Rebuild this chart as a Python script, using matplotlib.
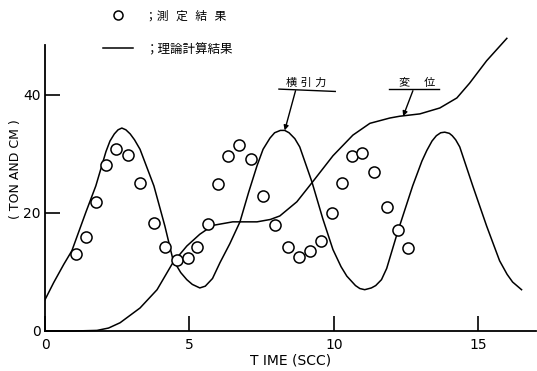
import matplotlib.pyplot as plt

plt.rcParams['font.family'] = ['DejaVu Sans', 'Noto Sans CJK JP']

# measured points (circles)
meas_t = [1.07, 1.42, 1.76, 2.11, 2.46, 2.87, 3.29, 3.77, 4.15, 4.57, 4.95, 5.26,
          5.64, 5.99, 6.33, 6.71, 7.13, 7.54, 7.96, 8.41, 8.79, 9.17, 9.55, 9.93,
          10.28, 10.62, 10.97, 11.38, 11.83, 12.21, 12.56]
meas_v = [13.0, 15.9, 21.9, 28.2, 30.9, 29.9, 25.1, 18.3, 14.2, 12.1, 12.3, 14.2,
          18.1, 25.0, 29.6, 31.5, 29.2, 22.9, 17.9, 14.2, 12.6, 13.5, 15.2, 20.0,
          25.1, 29.7, 30.2, 27.0, 21.0, 17.1, 14.0]

# theoretical towing force (横引力)
force_t = [0, 0.3, 0.65, 0.93, 1.42, 1.76, 2.11, 2.25, 2.4, 2.53, 2.66, 2.8, 2.95,
           3.1, 3.29, 3.77, 4.15, 4.43, 4.7, 4.91, 5.1, 5.36, 5.55, 5.8, 6.06, 6.4,
           6.75, 7.05, 7.34, 7.55, 7.79, 7.95, 8.15, 8.3, 8.45, 8.65, 8.82, 9.24,
           9.62, 9.97, 10.25, 10.45, 10.75, 10.9, 11.07, 11.3, 11.45, 11.65, 11.83,
           12.21, 12.73, 13.05, 13.22, 13.4, 13.55, 13.7, 13.84, 14.0, 14.1, 14.22,
           14.36, 14.81, 15.29, 15.74, 16.0, 16.19, 16.5]
force_v = [5.3, 8.2, 11.3, 13.6, 20.2, 24.6, 30.4, 32.2, 33.4, 34.1, 34.4, 34.1, 33.4,
           32.4, 30.8, 24.6, 17.8, 12.1, 9.9, 8.7, 7.9, 7.3, 7.6, 8.9, 11.6, 14.8,
           18.5, 23.5, 28.0, 30.8, 32.7, 33.6, 34.0, 34.0, 33.6, 32.6, 31.2, 25.3,
           19.0, 13.8, 10.9, 9.3, 7.7, 7.2, 7.0, 7.3, 7.7, 8.7, 10.6,
           16.8, 24.6, 28.8, 30.6, 32.2, 33.1, 33.6, 33.7, 33.5, 33.1, 32.4,
           31.2, 24.6, 17.8, 11.9, 9.6, 8.3, 7.0]

# theoretical displacement (変位)
disp_t = [0, 1.0, 1.8, 2.2, 2.6, 3.29, 3.88, 4.43, 4.91, 5.36, 5.81, 6.5, 7.34, 7.8,
          8.13, 8.72, 9.27, 9.97, 10.66, 11.25, 11.94, 12.28, 12.98, 13.67, 14.26,
          14.7, 15.29, 15.99]
disp_v = [0, 0, 0.1, 0.5, 1.4, 3.9, 7.0, 11.6, 14.4, 16.4, 17.9, 18.5, 18.5, 18.9,
          19.5, 21.9, 25.3, 29.7, 33.2, 35.2, 36.1, 36.4, 36.8, 37.8, 39.5,
          42.0, 45.8, 49.6]

fig = plt.figure(figsize=(5.37, 3.71), dpi=100)
ax = fig.add_axes([45 / 537, 40 / 371, 491 / 537, 295 / 371])

ax.plot(force_t, force_v, color='black', lw=1.1)
ax.plot(disp_t, disp_v, color='black', lw=1.1, clip_on=False)
ax.plot(meas_t, meas_v, 'o', mfc='white', mec='black', ms=8, mew=1.1)

ax.set_xlim(0, 17)
ax.set_ylim(0, 50)
ax.spines['top'].set_visible(False)
ax.spines['right'].set_visible(False)
ax.spines['left'].set_bounds(0, 48.5)
ax.spines['left'].set_linewidth(1.3)
ax.spines['bottom'].set_linewidth(1.3)

ax.set_xticks([0, 5, 10, 15])
ax.set_yticks([0, 20, 40])
ax.tick_params(direction='in', length=11, width=1.2, labelsize=10)
ax.tick_params(axis='x', pad=5)
ax.tick_params(axis='y', pad=3)

ax.set_xlabel('T IME (SCC)', fontsize=10, labelpad=1)
ax.set_ylabel('( TON AND CM )', fontsize=9)
ax.yaxis.set_label_coords(-0.047, 0.55)

# annotations
ax.annotate('横 引 力', xy=(8.3, 34.0), xytext=(9.05, 41.2), fontsize=8,
            ha='center', va='bottom',
            arrowprops=dict(arrowstyle='-|>', color='black', lw=1, mutation_scale=7,
                            shrinkA=0, shrinkB=0, relpos=(0.25, 0)))
ax.plot([8.1, 10.05], [41.0, 40.6], color='black', lw=1)
ax.annotate('変    位', xy=(12.4, 36.4), xytext=(12.9, 41.2), fontsize=8,
            ha='center', va='bottom',
            arrowprops=dict(arrowstyle='-|>', color='black', lw=1, mutation_scale=7,
                            shrinkA=0, shrinkB=0, relpos=(0.4, 0)))
ax.plot([11.9, 13.65], [41.0, 41.0], color='black', lw=1)

# legend at top
fig.lines.append(plt.Line2D([118 / 537], [1 - 15 / 371], transform=fig.transFigure,
                            marker='o', ms=6.5, mfc='white', mec='black', mew=1.1))
fig.text(145 / 537, 1 - 16 / 371, '；測  定  結  果', fontsize=8.5, ha='left', va='center')
fig.lines.append(plt.Line2D([103 / 537, 133 / 537], [1 - 48 / 371, 1 - 48 / 371],
                            transform=fig.transFigure, color='black', lw=1.1))
fig.text(145 / 537, 1 - 50 / 371, '；理論計算結果', fontsize=9, ha='left', va='center')

fig.savefig('out.png', dpi=100)
